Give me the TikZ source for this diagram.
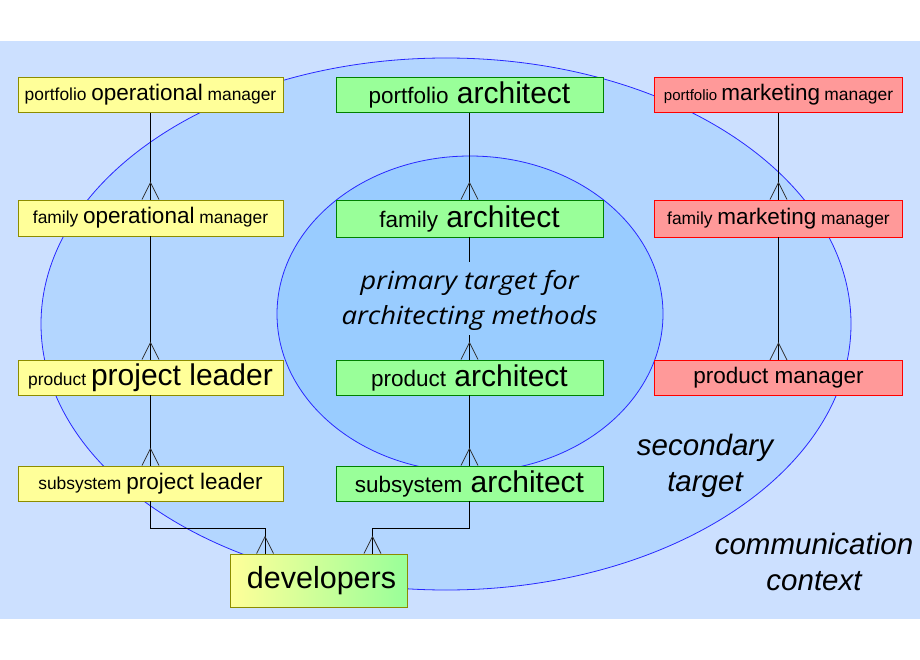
\documentclass[tikz,border=0pt]{standalone}
\usepackage{fontspec}
\setmainfont{Liberation Sans}
\newfontfamily\opensans[FakeStretch=1.1]{Open Sans}
\definecolor{bgblue}{RGB}{204,224,255}
\definecolor{outblue}{RGB}{179,214,255}
\definecolor{inblue}{RGB}{153,204,255}
\definecolor{ellline}{RGB}{40,40,255}
\definecolor{yfill}{RGB}{255,255,153}
\definecolor{yline}{RGB}{140,140,0}
\definecolor{gfill}{RGB}{153,255,153}
\definecolor{gline}{RGB}{0,128,0}
\definecolor{rfill}{RGB}{255,153,153}
\definecolor{rline}{RGB}{255,0,0}
\newcommand\fsz[2]{\fontsize{#1}{#2}\selectfont}
\newcommand\crowat[1]{\draw[crowline] ([xshift=-8.5pt]#1) -- ([yshift=17pt]#1) -- ([xshift=8.5pt]#1);}
\tikzset{
  ellstyle/.style={draw=ellline, line width=0.8pt},
  boxbase/.style={draw, line width=0.9pt, inner sep=0pt, minimum height=35pt, align=center},
  ybox/.style={boxbase, fill=yfill, draw=yline, minimum width=265pt},
  gbox/.style={boxbase, fill=gfill, draw=gline, minimum width=267pt},
  rbox/.style={boxbase, fill=rfill, draw=rline, minimum width=248pt},
  conn/.style={draw=black, line width=1.1pt},
  crowline/.style={draw=black!80, line width=0.8pt},
  ctxlabel/.style={align=center, inner sep=0pt, font=\itshape\fsz{29.5}{36}},
}
\begin{document}
\begin{tikzpicture}[x=1pt,y=-1pt]
\useasboundingbox (0,0) rectangle (920,660);
\fill[bgblue] (0,41) rectangle (920,619);
\draw[ellstyle, fill=outblue] (446,324) ellipse [x radius=405pt, y radius=266pt];
\draw[ellstyle, fill=inblue] (470,314) ellipse [x radius=193pt, y radius=158pt];

% labels
\node[align=center, inner sep=0pt, font=\opensans\itshape\fsz{25}{35}] (prim) at (469.5,300) {primary target for\\architecting methods};
\node[ctxlabel] (sec) at (705,466) {secondary\\target};
\node[ctxlabel] (com) at (814,562) {communication\\context};

\coordinate (ptop) at (469.5,262);
\coordinate (pbot) at (469.5,335);
\coordinate (jy) at (0,528.5);

% boxes
\node[ybox] (pom) at (150.5,95) {\fsz{17.4}{20}portfolio {\fsz{22.5}{26}operational} manager};
\node[ybox, minimum height=36pt] (fom) at (150.5,218) {\fsz{17.4}{20}family {\fsz{22.5}{26}operational} manager};
\node[ybox] (ppl) at (150.5,377.5) {\fsz{17.4}{20}product {\fsz{30}{34}project leader}};
\node[ybox] (spl) at (150.5,483.5) {\fsz{17.4}{20}subsystem {\fsz{22.5}{26}project leader}};

\node[gbox] (pa) at (469.5,95) {\fsz{22.5}{26}portfolio {\fsz{30}{34}\hspace{2pt}architect}};
\node[gbox, minimum height=37pt] (fa) at (469.5,218.5) {\fsz{22.5}{26}family {\fsz{30}{34}\hspace{2pt}architect}};
\node[gbox] (pra) at (469.5,377.5) {\fsz{22.5}{26}product {\fsz{30}{34}\hspace{2pt}architect}};
\node[gbox] (sa) at (469.5,483.5) {\fsz{22.5}{26}subsystem {\fsz{30}{34}\hspace{2pt}architect}};

\node[rbox] (pmm) at (778.5,95) {\fsz{15}{18}portfolio {\fsz{22.5}{26}marketing} {\fsz{17.4}{20}manager}};
\node[rbox, minimum height=37pt] (fmm) at (778.5,218.5) {\fsz{17.4}{20}family {\fsz{22.5}{26}marketing} manager};
\node[rbox] (pm) at (778.5,378) {\fsz{22.5}{26}product manager};

\node[boxbase, draw=yline, left color=yfill, right color=gfill, minimum width=177pt, minimum height=53pt] (dev) at (318.5,580.5) {\fsz{30.5}{34}\hspace{6pt}developers};

\coordinate (devL) at ([xshift=35.5pt]dev.north west);
\coordinate (devR) at ([xshift=-35pt]dev.north east);

% connectors
\draw[conn] (pom) -- (fom); \crowat{fom.north}
\draw[conn] (fom) -- (ppl); \crowat{ppl.north}
\draw[conn] (ppl) -- (spl); \crowat{spl.north}
\draw[conn] (pa) -- (fa); \crowat{fa.north}
\draw[conn] (fa) -- (ptop);
\draw[conn] (pbot) -- (pra); \crowat{pra.north}
\draw[conn] (pra) -- (sa); \crowat{sa.north}
\draw[conn] (pmm) -- (fmm); \crowat{fmm.north}
\draw[conn] (fmm) -- (pm); \crowat{pm.north}
\draw[conn] (spl.south) -- (spl.south |- jy) -| (devL); \crowat{devL}
\draw[conn] (sa.south) -- (sa.south |- jy) -| (devR); \crowat{devR}
\end{tikzpicture}
\end{document}
